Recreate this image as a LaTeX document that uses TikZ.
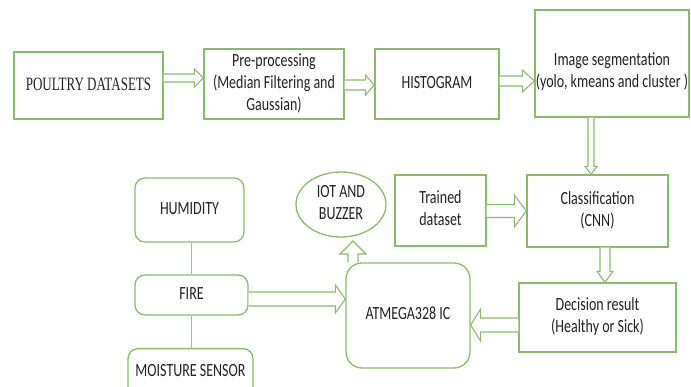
\documentclass[tikz,border=0pt]{standalone}
\usepackage{fontspec}
\usepackage{graphicx}
\setmainfont{Carlito}
\newfontfamily\timesfont{Liberation Serif}
\usetikzlibrary{calc,shapes.geometric}
\definecolor{boxgreen}{HTML}{8CBA6C}
\definecolor{txtgray}{HTML}{222222}
\definecolor{linegray}{HTML}{A9B4BC}
\newcommand\vt[2][1.33]{\scalebox{1}[#1]{\begin{tabular}{@{}c@{}}#2\end{tabular}}}
\tikzset{
  boxn/.style={draw=boxgreen, line width=1.3pt, fill=white, inner sep=2pt,
    align=center, text=txtgray, font=\fontsize{14}{16.5}\selectfont},
  roundn/.style={boxn, rounded corners=10pt},
  txtn/.style={align=center, text=txtgray, font=\fontsize{14}{16.5}\selectfont, inner sep=0pt},
  arrowline/.style={draw=boxgreen, line width=1.1pt, fill=white, line join=miter},
  thinline/.style={draw=linegray, line width=0.8pt}
}
% hollow block arrow: from, to, half shaft width, half head width, head length
\newcommand\hollowarr[5]{%
  \path (#1) coordinate (ha) (#2) coordinate (hz);
  \path ($(hz)!#5!(ha)$) coordinate (hb);
  \draw[arrowline] ($(ha)!#3!90:(hz)$) -- ($(hb)!#3!90:(hz)$) -- ($(hb)!#4!90:(hz)$)
    -- (hz) -- ($(hb)!#4!-90:(hz)$) -- ($(hb)!#3!-90:(hz)$) -- ($(ha)!#3!-90:(hz)$);
}
\begin{document}
\begin{tikzpicture}[x=1pt,y=-1pt]
\useasboundingbox (0,0) rectangle (691,387);
\begin{scope}
\clip (0,0) rectangle (691,387);
% top row
\node[boxn, minimum width=149pt, minimum height=67pt, font=\timesfont\fontsize{13}{16}\selectfont] (poultry) at (88.5,85.5) {\vt[1.45]{POULTRY DATASETS}};
\node[boxn, minimum width=140pt, minimum height=70pt] (pre) at (274,84) {\vt{Pre-processing\\(Median Filtering and\\Gaussian)}};
\node[boxn, minimum width=124pt, minimum height=70pt] (hist) at (437,84) {\vt{HISTOGRAM}};
\node[boxn, minimum width=154pt, minimum height=107pt] (seg) at (612,63.5) {};
\node[txtn] (segtxt) at (612,72) {\vt{Image segmentation\\(yolo, kmeans and cluster )}};
% middle
\node[boxn, minimum width=141pt, minimum height=72pt] (class) at (597.5,211) {\vt{Classification\\(CNN)}};
\node[boxn, minimum width=91pt, minimum height=71pt] (trained) at (440.5,210.5) {\vt{Trained\\dataset}};
\node[boxn, minimum width=157pt, minimum height=69pt] (decision) at (597.5,317.5) {\vt{Decision result\\(Healthy or Sick)}};
\node[boxn, rounded corners=16pt, minimum width=124pt, minimum height=105pt] (atmega) at (408,315.5) {\vt{ATMEGA328 IC}};
\node[boxn, ellipse, inner sep=0pt, minimum width=90pt, minimum height=65pt] (iot) at (341,204.5) {\vt{IOT AND\\BUZZER}};
% sensors
\node[roundn, minimum width=109pt, minimum height=64pt] (humidity) at (189.5,210) {\vt{HUMIDITY}};
\node[roundn, minimum width=113pt, minimum height=40pt] (fire) at (191.5,295) {\vt{FIRE}};
\node[roundn, minimum width=125pt, minimum height=48pt, anchor=north] (moisture) at (190.5,348) {};
\node[txtn] (moisturetxt) at (190.5,372) {\vt{MOISTURE SENSOR}};
\draw[thinline] (fire.north) -- (fire.north |- humidity.south);
\draw[thinline] (fire.south) -- (fire.south |- moisture.north);
% arrows
\path (poultry.east |- 0,78) coordinate (a1s) (pre.west |- 0,78) coordinate (a1e);
\hollowarr{a1s}{a1e}{4pt}{9pt}{9pt}
\path (pre.east |- 0,85) coordinate (a2s) (hist.west |- 0,85) coordinate (a2e);
\hollowarr{a2s}{a2e}{5pt}{10pt}{9pt}
\path (hist.east |- 0,81) coordinate (a3s) (seg.west |- 0,81) coordinate (a3e);
\hollowarr{a3s}{a3e}{5pt}{11pt}{12pt}
\path (591,0 |- seg.south) coordinate (a4s) (591,0 |- class.north) coordinate (a4e);
\hollowarr{a4s}{a4e}{3pt}{6pt}{8pt}
\path (trained.east |- 0,211) coordinate (a5s) (class.west |- 0,211) coordinate (a5e);
\hollowarr{a5s}{a5e}{6.5pt}{16pt}{12pt}
\path (605,0 |- class.south) coordinate (a6s) (605,0 |- decision.north) coordinate (a6e);
\hollowarr{a6s}{a6e}{5pt}{8pt}{11pt}
\path (decision.west |- 0,325) coordinate (a7s) (atmega.east |- 0,325) coordinate (a7e);
\hollowarr{a7s}{a7e}{7pt}{16pt}{10pt}
\path (fire.east |- 0,299) coordinate (a8s) (atmega.west |- 0,299) coordinate (a8e);
\hollowarr{a8s}{a8e}{7pt}{14pt}{10pt}
\path (353,0 |- atmega.north) coordinate (a9s) (353,241) coordinate (a9e);
\hollowarr{a9s}{a9e}{5pt}{13pt}{13pt}
\end{scope}
\end{tikzpicture}
\end{document}
